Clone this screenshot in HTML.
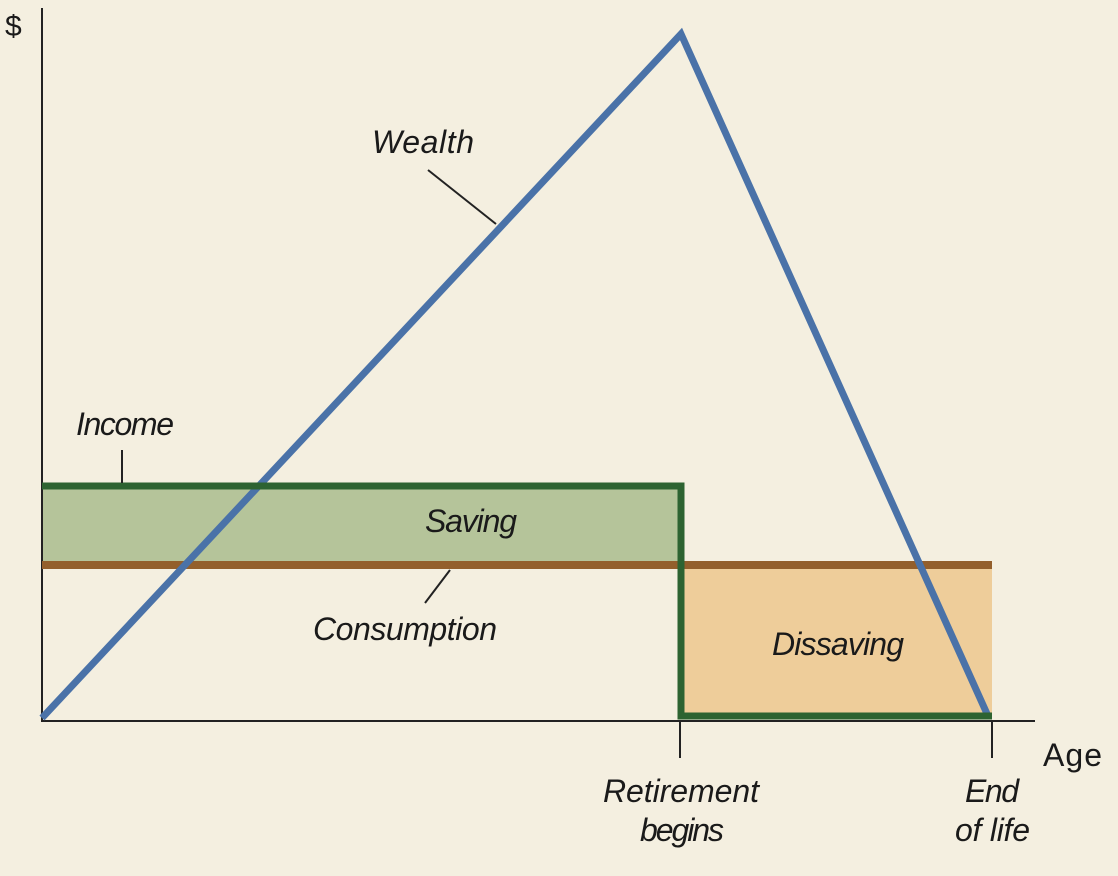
<!DOCTYPE html>
<html><head><style>
html,body{margin:0;padding:0;background:#f4efe0;}
svg{display:block;}
text{font-family:"Liberation Sans",sans-serif;fill:#1a1a1a;}
.i{font-style:italic;font-size:32px;}
</style></head><body>
<svg width="1118" height="876" viewBox="0 0 1118 876" xmlns="http://www.w3.org/2000/svg">
<rect width="1118" height="876" fill="#f4efe0"/>
<rect x="42" y="486" width="639" height="79" fill="#b5c49a"/>
<rect x="681" y="565" width="311" height="151" fill="#eecd9a"/>
<line x1="42" y1="8" x2="42" y2="722" stroke="#222" stroke-width="2"/>
<line x1="41" y1="721" x2="1035" y2="721" stroke="#222" stroke-width="2"/>
<line x1="680" y1="721" x2="680" y2="758" stroke="#222" stroke-width="2"/>
<line x1="992" y1="721" x2="992" y2="758" stroke="#222" stroke-width="2"/>
<line x1="42" y1="565" x2="992" y2="565" stroke="#935f2c" stroke-width="8"/>
<polyline points="42,718 681,34 988,716" fill="none" stroke="#4a72a8" stroke-width="7" stroke-linejoin="miter"/>
<polyline points="42,486 681,486 681,716 992,716" fill="none" stroke="#2d6331" stroke-width="7"/>
<line x1="428" y1="170" x2="496" y2="224" stroke="#222" stroke-width="2"/>
<line x1="122" y1="450" x2="122" y2="483" stroke="#222" stroke-width="2"/>
<line x1="450" y1="570" x2="425" y2="603" stroke="#222" stroke-width="2"/>
<text x="5" y="36" font-size="30">$</text>
<text x="1043" y="766" font-size="32" textLength="59">Age</text>
<text class="i" x="372" y="153" textLength="102">Wealth</text>
<text class="i" x="76" y="435" textLength="98">Income</text>
<text class="i" x="425" y="532" textLength="92">Saving</text>
<text class="i" x="313" y="640" textLength="184">Consumption</text>
<text class="i" x="772" y="655" textLength="132">Dissaving</text>
<text class="i" x="603" y="802" textLength="156">Retirement</text>
<text class="i" x="640" y="841" textLength="84">begins</text>
<text class="i" x="965" y="802" textLength="54">End</text>
<text class="i" x="955" y="841" textLength="75">of life</text>
</svg>
</body></html>
